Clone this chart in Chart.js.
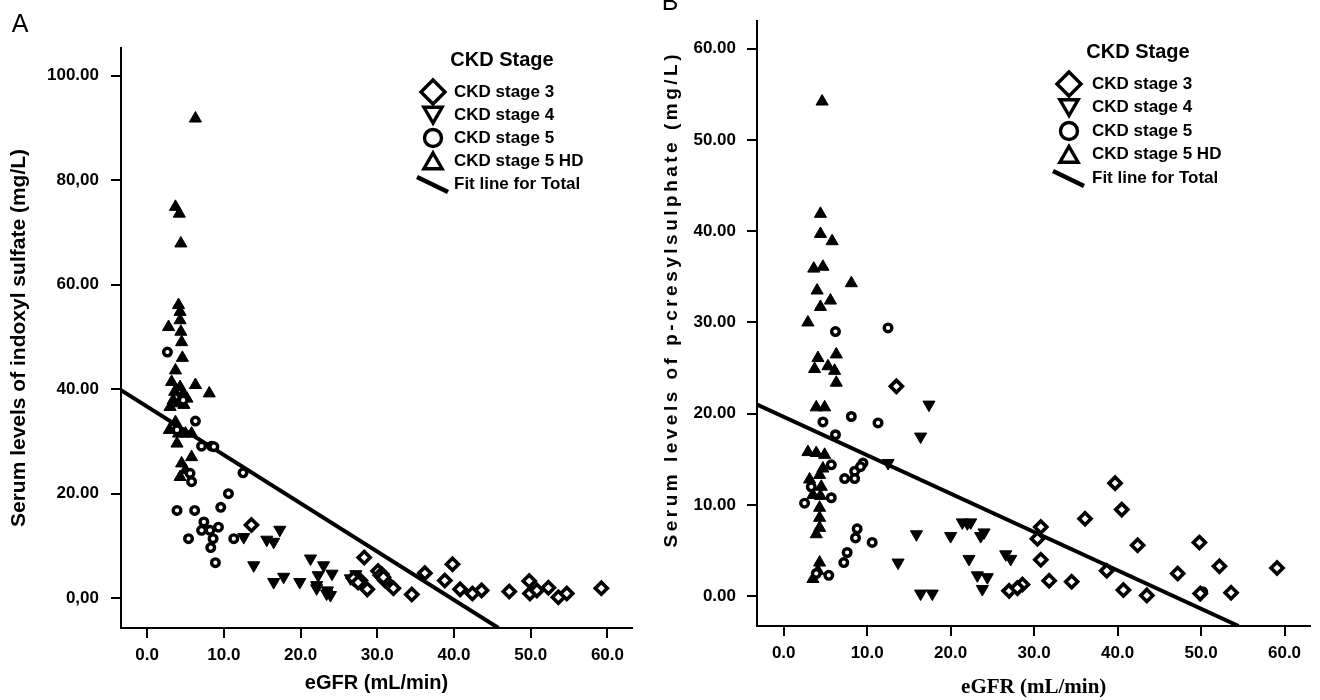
<!DOCTYPE html>
<html><head><meta charset="utf-8">
<script src="https://cdn.jsdelivr.net/npm/chart.js@4.4.0/dist/chart.umd.min.js"></script>
<style>
html,body{margin:0;padding:0;background:#fff;}
#wrap{position:relative;width:1320px;height:700px;overflow:hidden;background:#fff;}
.pane{position:absolute;top:0;width:660px;height:700px;}
</style></head><body>
<div id="wrap">
<div class="pane" style="left:0"><canvas id="cA" width="660" height="700"></canvas></div>
<div class="pane" style="left:660px"><canvas id="cB" width="660" height="700"></canvas></div>
</div>
<script>
// ---------- DATA ----------
const legendLabels = ['CKD stage 3', 'CKD stage 4', 'CKD stage 5', 'CKD stage 5 HD', 'Fit line for Total'];
const legendTitle = 'CKD Stage';
const xTickValues = [0, 10, 20, 30, 40, 50, 60];
const xTickLabels = ['0.0', '10.0', '20.0', '30.0', '40.0', '50.0', '60.0'];
const yTickValuesA = [0, 20, 40, 60, 80, 100];
const yTickLabelsA = ['0,00', '20.00', '40.00', '60.00', '80,00', '100.00'];
const yTickValuesB = [0, 10, 20, 30, 40, 50, 60];
const yTickLabelsB = ['0.00', '10.00', '20.00', '30.00', '40.00', '50.00', '60.00'];
const xTitle = 'eGFR (mL/min)';
const yTitleA = 'Serum levels of indoxyl sulfate (mg/L)';
const yTitleB = 'Serum levels of p-cresylsulphate (mg/L)';

// Panel A: indoxyl sulfate vs eGFR  [eGFR, value]
const stage3A = [[13.6,14.0],[28.3,7.8],[26.9,3.8],[27.8,3.4],[28.7,1.7],[30.1,5.2],[30.6,4.6],[30.4,4.4],[31.0,3.4],[30.8,4.0],[32.1,1.9],[34.5,0.7],[36.2,4.8],[39.8,6.5],[38.8,3.4],[40.8,1.7],[42.4,0.9],[43.6,1.5],[47.2,1.3],[49.8,3.3],[49.9,0.9],[50.8,1.5],[52.3,2.0],[53.6,0.2],[54.7,0.9],[59.2,1.9],[27.5,3.0]];
const stage4A = [[12.6,11.7],[17.3,13.1],[15.6,11.2],[16.5,10.8],[13.9,6.3],[16.5,3.1],[17.8,4.1],[19.9,3.1],[21.3,7.6],[22.3,4.4],[23.0,6.3],[22.1,2.5],[23.4,0.9],[24.1,4.7],[22.1,1.9],[23.9,0.6],[23.5,1.5],[26.5,3.8],[27.2,4.6]];
const stage5A = [[2.65,47.1],[6.3,33.9],[4.7,37.9],[3.9,32.2],[7.1,29.1],[8.4,29.1],[8.7,29.0],[5.6,23.9],[5.8,22.3],[12.5,24.0],[10.6,20.0],[3.9,16.8],[6.2,16.8],[9.6,17.4],[7.4,14.6],[7.1,13.0],[8.2,13.0],[9.3,13.6],[5.4,11.4],[8.6,11.4],[8.3,9.7],[8.9,6.8],[11.3,11.4]];
const stage5HDA = [[6.3,91.8],[3.7,74.9],[4.2,73.6],[4.4,67.9],[4.1,56.1],[4.3,54.8],[4.3,53.2],[2.8,51.9],[4.4,51.0],[4.5,49.0],[4.6,46.0],[3.7,43.6],[3.2,41.4],[6.3,40.8],[8.1,39.2],[4.3,40.4],[4.7,39.2],[5.2,38.2],[3.4,37.9],[3.0,36.6],[4.1,37.3],[3.6,39.5],[4.8,37.0],[3.7,33.7],[2.9,32.2],[4.1,31.5],[5.0,31.5],[5.8,31.5],[3.9,29.6],[5.8,27.0],[4.5,25.8],[5.0,24.5],[4.3,23.2]];
const fitA = [[-3.4,39.8],[45.8,-5.7]];

// Panel B: p-cresylsulphate vs eGFR  [eGFR, value]
const stage3B = [[13.5,23.0],[27.0,0.6],[28.6,1.3],[28.0,0.9],[30.8,7.6],[30.4,6.3],[30.8,4.0],[31.8,1.7],[34.5,1.6],[36.1,8.5],[39.7,12.4],[40.5,9.5],[38.7,2.8],[42.4,5.6],[40.7,0.7],[43.5,0.1],[47.2,2.5],[49.8,5.9],[49.9,0.3],[52.2,3.3],[53.6,0.4],[59.1,3.1]];
const stage4B = [[17.4,21.0],[16.4,17.5],[12.5,14.6],[15.9,6.8],[20.0,6.6],[13.7,3.7],[16.4,0.3],[17.8,0.3],[21.4,8.1],[22.4,8.1],[22.0,8.0],[23.6,6.6],[24.0,7.0],[22.2,4.1],[23.2,2.3],[24.4,2.1],[23.8,0.8],[26.6,4.6],[27.2,4.1]];
const stage5B = [[6.2,29.0],[12.5,29.4],[4.7,19.1],[8.1,19.7],[11.3,19.0],[6.2,17.7],[5.7,14.4],[8.5,13.7],[7.3,12.9],[8.5,12.9],[9.5,14.6],[9.2,14.2],[3.3,12.0],[2.5,10.2],[5.7,10.8],[8.8,7.4],[8.6,6.4],[10.6,5.9],[7.6,4.8],[7.2,3.7],[3.9,2.5],[5.4,2.3],[50.2,0.5]];
const stage5HDB = [[4.6,54.2],[4.4,41.9],[4.4,39.7],[5.8,38.9],[3.6,35.9],[4.7,36.1],[8.1,34.3],[4.0,33.5],[5.6,32.4],[4.4,31.7],[2.9,30.0],[4.1,26.1],[6.3,26.5],[3.7,24.9],[5.3,25.2],[6.1,24.7],[6.3,23.4],[3.9,20.7],[4.9,20.7],[2.9,15.8],[3.9,15.7],[4.9,15.5],[4.7,14.0],[3.1,12.8],[4.3,13.3],[4.5,12.0],[3.5,11.1],[4.4,11.0],[4.3,9.7],[4.3,8.6],[4.3,7.5],[3.9,6.8],[4.3,3.7],[4.1,2.8],[3.5,1.9]];
const fitB = [[-3.2,21.0],[54.5,-3.25]];

// ---------- RENDERING ----------
const SANS = '"Liberation Sans", Arial, Helvetica, sans-serif';
const SERIF = '"Liberation Serif", "Times New Roman", serif';
const toXY = a => a.map(p => ({x: p[0], y: p[1]}));

function makeDatasets(s3, s4, s5, hd, fit) {
  const common = {borderColor: '#000', pointBorderColor: '#000'};
  return [
    Object.assign({label: legendLabels[0], data: toXY(s3), pointStyle: 'rectRot', pointRadius: 6, pointBorderWidth: 3.6, pointBackgroundColor: '#fff', pointRotation: 0}, common),
    Object.assign({label: legendLabels[1], data: toXY(s4), pointStyle: 'triangle', pointRadius: 7, pointBorderWidth: 1, pointBackgroundColor: '#000', pointRotation: 180}, common),
    Object.assign({label: legendLabels[2], data: toXY(s5), pointStyle: 'circle', pointRadius: 3.8, pointBorderWidth: 3.4, pointBackgroundColor: '#fff', pointRotation: 0}, common),
    Object.assign({label: legendLabels[3], data: toXY(hd), pointStyle: 'triangle', pointRadius: 7, pointBorderWidth: 1, pointBackgroundColor: '#000', pointRotation: 0}, common),
    {label: legendLabels[4], data: toXY(fit), showLine: true, pointRadius: 0, borderWidth: 4, borderColor: '#000', fill: false, isFit: true}
  ];
}

function drawSym(ctx, style, x, y, r, rot) {
  ctx.beginPath();
  if (style === 'circle') {
    ctx.arc(x, y, r, 0, Math.PI * 2);
  } else if (style === 'rectRot') {
    ctx.moveTo(x - r, y); ctx.lineTo(x, y - r); ctx.lineTo(x + r, y); ctx.lineTo(x, y + r); ctx.closePath();
  } else {
    let a = rot * Math.PI / 180;
    for (let k = 0; k < 3; k++) {
      const px = x + Math.sin(a) * r, py = y - Math.cos(a) * r;
      if (k) ctx.lineTo(px, py); else ctx.moveTo(px, py);
      a += 2 * Math.PI / 3;
    }
    ctx.closePath();
  }
  ctx.fillStyle = '#fff'; ctx.fill();
  ctx.lineWidth = 3.4; ctx.strokeStyle = '#000'; ctx.stroke();
}

const decorPlugin = {
  id: 'panelDecor',
  afterDraw(chart, args, o) {
    const ctx = chart.ctx;
    ctx.save();
    ctx.fillStyle = '#000';
    ctx.textBaseline = 'middle';
    // panel letter
    ctx.font = '25px ' + SANS;
    ctx.textAlign = 'center';
    ctx.fillText(o.letter, o.letterX, o.letterY);
    // legend title
    ctx.font = 'bold 20px ' + SANS;
    ctx.fillText(legendTitle, o.legTitleX, o.legTitleY);
    // legend entries
    ctx.textAlign = 'left';
    chart.data.datasets.forEach((ds, i) => {
      const y = o.rowY0 + i * o.rowGap;
      if (ds.isFit) {
        ctx.beginPath();
        ctx.moveTo(o.symX - 16, y - 7); ctx.lineTo(o.symX + 15, y + 8);
        ctx.lineWidth = 4.5; ctx.strokeStyle = '#000'; ctx.stroke();
      } else {
        const st = ds.pointStyle, rot = ds.pointRotation;
        const r = st === 'rectRot' ? 12 : (st === 'circle' ? 8.5 : 10.5);
        const dy = st === 'triangle' ? (rot === 180 ? -2.5 : 2.5) : 0;
        drawSym(ctx, st, o.symX, y + dy, r, rot);
      }
      ctx.fillStyle = '#000';
      ctx.font = 'bold 17px ' + SANS;
      ctx.fillText(ds.label, o.textX, y);
    });
    // optional spaced y title
    if (o.yTitle) {
      ctx.save();
      ctx.translate(o.yTitle.x, o.yTitle.y);
      ctx.rotate(-Math.PI / 2);
      ctx.font = o.yTitle.font;
      ctx.textAlign = 'left';
      ctx.textBaseline = 'middle';
      const n = o.yTitle.text.length;
      ctx.letterSpacing = '0px';
      const w0 = ctx.measureText(o.yTitle.text).width;
      const ls = Math.max(0, (o.yTitle.width - w0) / (n - 1));
      ctx.letterSpacing = ls + 'px';
      ctx.fillText(o.yTitle.text, -o.yTitle.width / 2, 0);
      ctx.restore();
    }
    ctx.restore();
  }
};

function axisCommon() {
  return {
    type: 'linear',
    grid: {display: true, drawOnChartArea: false, drawTicks: true, tickLength: 10, tickWidth: 2, tickColor: '#000', color: '#000', lineWidth: 2},
    border: {display: true, color: '#000', width: 2}
  };
}

function makeChart(id, cfg) {
  const x = Object.assign(axisCommon(), {
    position: 'bottom', min: cfg.xMin, max: cfg.xMax,
    afterBuildTicks: s => { s.ticks = xTickValues.map(v => ({value: v})); },
    afterFit: s => { s.height = cfg.xHeight; },
    ticks: {autoSkip: false, maxRotation: 0, minRotation: 0, padding: 7, color: '#000', font: {family: SANS, size: 17, weight: 'bold'}, callback: (v, i) => xTickLabels[i]},
    title: cfg.xTitle
  });
  const y = Object.assign(axisCommon(), {
    position: 'left', min: cfg.yMin, max: cfg.yMax,
    afterBuildTicks: s => { s.ticks = cfg.yTicks.map(v => ({value: v})); },
    afterFit: s => { s.width = cfg.yWidth; },
    ticks: {autoSkip: false, padding: cfg.yPad, color: '#000', font: {family: SANS, size: 17, weight: 'bold'}, callback: (v, i) => cfg.yLabels[i]},
    title: cfg.yTitle
  });
  return new Chart(document.getElementById(id), {
    type: 'scatter',
    data: {datasets: cfg.datasets},
    options: {
      responsive: false, animation: false, events: [],
      layout: {padding: {left: 0, top: cfg.padTop, right: cfg.padRight, bottom: 0}},
      plugins: {legend: {display: false}, tooltip: {enabled: false}, panelDecor: cfg.decor},
      scales: {x, y}
    },
    plugins: [decorPlugin]
  });
}

makeChart('cA', {
  datasets: makeDatasets(stage3A, stage4A, stage5A, stage5HDA, fitA),
  xMin: -3.4, xMax: 63.2, yMin: -5.7, yMax: 105.3,
  yTicks: yTickValuesA, yLabels: yTickLabelsA,
  padTop: 48, padRight: 28, xHeight: 72, yWidth: 121, yPad: 12,
  xTitle: {display: true, text: xTitle, color: '#000', font: {family: SANS, size: 20, weight: 'bold', lineHeight: 1.2}, padding: {top: 0, bottom: 5}},
  yTitle: {display: true, text: yTitleA, color: '#000', font: {family: SANS, size: 21, weight: 'bold', lineHeight: 1.2}, padding: {top: 7, bottom: 0}},
  decor: {letter: 'A', letterX: 20, letterY: 25, legTitleX: 502, legTitleY: 60, symX: 433, textX: 454, rowY0: 92, rowGap: 23}
});

makeChart('cB', {
  datasets: makeDatasets(stage3B, stage4B, stage5B, stage5HDB, fitB),
  xMin: -3.2, xMax: 63.1, yMin: -3.25, yMax: 63.0,
  yTicks: yTickValuesB, yLabels: yTickLabelsB,
  padTop: 15, padRight: 8, xHeight: 74, yWidth: 97, yPad: 11,
  xTitle: {display: true, text: xTitle, color: '#000', font: {family: SERIF, size: 21, weight: 'bold', lineHeight: 1.2}, padding: {top: 0, bottom: 0}},
  yTitle: {display: false},
  decor: {letter: 'B', letterX: 10, letterY: 3, legTitleX: 478, legTitleY: 52, symX: 409, textX: 432, rowY0: 84, rowGap: 23.5,
    yTitle: {text: yTitleB, x: 12, y: 301, width: 493, font: 'bold 19px ' + SANS}}
});
</script>
</body></html>
